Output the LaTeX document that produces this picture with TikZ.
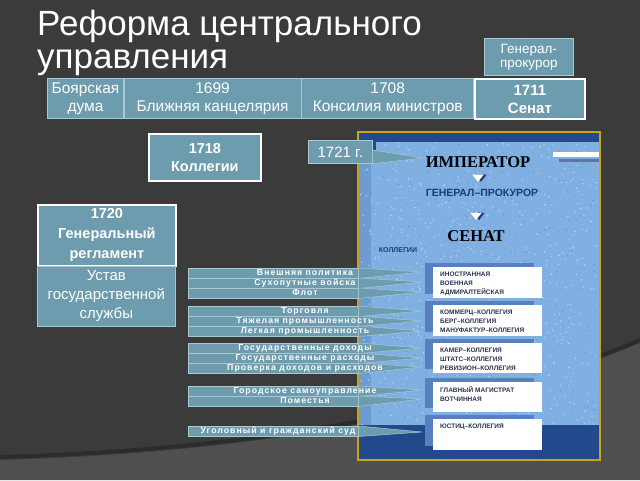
\documentclass[tikz,border=0pt]{standalone}
\usepackage{fontspec}
\setmainfont{Liberation Sans}
\newfontfamily\stripfont[LetterSpace=12]{Liberation Sans}
\newfontfamily\picserif{Liberation Serif}
\usetikzlibrary{calc,arrows.meta}

\definecolor{slate}{HTML}{3B3B3B}
\definecolor{slatelow}{HTML}{4F4F4F}
\definecolor{boxteal}{HTML}{6C9CAD}
\definecolor{boxedge}{HTML}{A8C8D2}
\definecolor{frame}{HTML}{C9A318}
\definecolor{sky}{HTML}{80AFE2}
\definecolor{skylight}{HTML}{B3D2F4}
\definecolor{skydark}{HTML}{6C9CD3}
\definecolor{skydots}{HTML}{5F8FCB}
\definecolor{deepblue}{HTML}{21498C}
\definecolor{shadeblue}{HTML}{5880BE}
\definecolor{navy}{HTML}{1C3B7A}
\definecolor{boxink}{HTML}{2B3352}

\tikzstyle{tealbox}=[rectangle,
                        fill=boxteal,
                        draw=boxedge,
                        line width=0.6pt,
                        text=white,
                        inner sep=0pt,
                        align=center,
                        anchor=north west]
\tikzstyle{markbox}=[tealbox,
                        draw=white,
                        line width=1.8pt]
\tikzstyle{strip}=[rectangle,
                        fill=boxteal,
                        draw=boxedge,
                        line width=0.5pt,
                        inner sep=0pt,
                        anchor=north west,
                        minimum width=170pt,
                        minimum height=10pt]
\tikzstyle{striptext}=[text=white,
                        inner sep=0pt,
                        font=\stripfont\bfseries\fontsize{8.7}{9}\selectfont]
\tikzstyle{collbox}=[rectangle,
                        fill=white,
                        inner sep=0pt,
                        anchor=north west,
                        minimum width=109pt]
\tikzstyle{colltext}=[anchor=north west,
                        inner sep=0pt,
                        align=left,
                        text=boxink,
                        font=\bfseries\fontsize{6.5}{9}\selectfont]
\tikzstyle{pictext}=[inner sep=1pt]
\tikzstyle{downtip}=[line width=0.1pt,
                        -{Triangle[width=11pt,length=7pt]}]

\begin{document}
\begin{tikzpicture}[x=1pt,y=-1pt]
  \useasboundingbox (0,0) rectangle (640,480);
  % The slide background with its lighter lower part:
  \fill[slate] (0,0) rectangle (640,480);
  \fill[slatelow] (0,460) .. controls (250,453) and (470,415) .. (640,343)
    -- (640,480) -- (0,480) -- cycle;
  \draw[black, opacity=0.25, line width=4pt] (0,457) .. controls (250,450) and (470,412) .. (640,340);
  \draw[black!70, opacity=0.5] (505,0) -- (640,232);
  \draw[black!70, opacity=0.5] (527,480) -- (546,458);

  \node[anchor=north west, inner sep=0pt, align=left, text=white,
        font=\fontsize{35}{33}\selectfont] (title) at (37,10) {Реформа центрального\\управления};

  % The top row of institutions is placed using a matrix:
  \matrix (toprow) [anchor=north west, column sep=0pt, inner sep=0pt,
                    nodes={font=\fontsize{15.5}{18}\selectfont}] at (47,78) {
        \node (duma) [tealbox, minimum width=76pt, minimum height=40pt] {Боярская\\дума}; &
        \node (blizh) [tealbox, minimum width=177pt, minimum height=40pt] {1699\\Ближняя канцелярия}; &
        \node (konsil) [tealbox, minimum width=172pt, minimum height=40pt] {1708\\Консилия министров}; &
        \node (senat) [markbox, minimum width=110pt, minimum height=40pt, font=\bfseries\fontsize{15}{18}\selectfont] {1711\\Сенат};
		\\
    };

  \node (genprok) [tealbox, minimum width=89pt, minimum height=37pt,
                   font=\fontsize{13.5}{14}\selectfont] at (484,38) {Генерал-\\прокурор};
  \node (koll) [markbox, minimum width=112pt, minimum height=47pt,
                font=\bfseries\fontsize{14.5}{18}\selectfont] at (148,133) {1718\\Коллегии};
  \node (regl) [markbox, minimum width=138pt, minimum height=61pt,
                font=\bfseries\fontsize{14.5}{20}\selectfont] at (37,204) {1720\\Генеральный\\регламент};
  \node (ustav) [tealbox, minimum width=138pt, minimum height=60pt,
                 font=\fontsize{15}{19}\selectfont] at (37,266) {Устав\\государственной\\службы};

  % The picture of the state scheme:
  \draw[frame, line width=2pt, fill=sky] (358,132) rectangle (600,460);
  \fill[skydark] (359,150) rectangle (371,426);
  \pgfmathsetseed{11}
  \foreach \i in {1,...,700}
    \fill[skylight] ({360+238*rnd},{140+290*rnd}) circle (0.8pt);
  \foreach \i in {1,...,400}
    \fill[skydots] ({360+238*rnd},{140+290*rnd}) circle (0.6pt);
  \fill[deepblue] (359,133) rectangle (599,142);
  \fill[deepblue] (359,133) rectangle (376,150);
  \fill[deepblue] (359,425) rectangle (599,459);
  \fill[white] (553,152) rectangle (599,157);
  \fill[navy!70] (559,159) rectangle (599,162);

  \node (imp) [pictext, text=black, font=\picserif\bfseries\fontsize{16.5}{18}\selectfont] at (478,162) {ИМПЕРАТОР};
  \node (genpr) [pictext, text=navy, font=\bfseries\fontsize{10.5}{12}\selectfont] at (482,193) {ГЕНЕРАЛ–ПРОКУРОР};
  \node (senpic) [pictext, text=black, font=\picserif\bfseries\fontsize{16.5}{18}\selectfont] at (476,236) {СЕНАТ};
  \node (kolhead) [pictext, text=navy, font=\bfseries\fontsize{7}{8}\selectfont] at (398,250) {КОЛЛЕГИИ};

  % Down arrows inside the picture, with their shadows:
  \draw[downtip, navy] ([xshift=3pt,yshift=-6pt]imp.south) -- ([xshift=3pt,yshift=-13pt]imp.south);
  \draw[downtip, navy] ([xshift=-3pt,yshift=-14pt]genpr.south) -- ([xshift=-3pt,yshift=-22pt]genpr.south);
  \draw[downtip, white] ([yshift=-6pt]imp.south) -- ([yshift=-13pt]imp.south);
  \draw[downtip, white] ([xshift=-6pt,yshift=-14pt]genpr.south) -- ([xshift=-6pt,yshift=-22pt]genpr.south);

  % The collegia, white boxes with a darker band behind:
  \foreach \n/\top/\hgt/\lines in {
        1/267/31/{ИНОСТРАННАЯ\\ВОЕННАЯ\\АДМИРАЛТЕЙСКАЯ},
        2/305/31/{КОММЕРЦ–КОЛЛЕГИЯ\\БЕРГ–КОЛЛЕГИЯ\\МАНУФАКТУР–КОЛЛЕГИЯ},
        3/343/30/{КАМЕР–КОЛЛЕГИЯ\\ШТАТС–КОЛЛЕГИЯ\\РЕВИЗИОН–КОЛЛЕГИЯ},
        4/382/30/{ГЛАВНЫЙ МАГИСТРАТ\\ВОТЧИННАЯ},
        5/419/31/{ЮСТИЦ–КОЛЛЕГИЯ}}
  {
    \fill[shadeblue] (425,{\top-4}) rectangle (534,{\top+\hgt-4});
    \node (coll\n) [collbox, minimum height=\hgt pt] at (433,\top) {};
    \node[colltext] at ($(coll\n.north west)+(7,4.5)$) {\lines};
  }

  % The 1721 box lies over the picture:
  \node (g1721) [tealbox, minimum width=64pt, minimum height=23pt,
                 font=\fontsize{15}{16}\selectfont] at (308,140) {1721 г.};
  \path[fill=boxteal, draw=boxedge, line width=0.5pt]
        ($(g1721.north east)+(0,10)$) -- (423,158) -- (g1721.south east) -- cycle;

  % The strips with the fields of each collegium:
  \foreach \n/\top/\tip/\cx/\txt in {
        a/268/272/305/Внешняя политика,
        b/278/282/305/Сухопутные войска,
        c/288/292/305/Флот,
        d/306/311/305/Торговля,
        e/316/321/305/Тяжелая промышленность,
        f/326/331/305/Легкая промышленность,
        g/343/348/305/Государственные доходы,
        h/353/358/305/Государственные расходы,
        i/363/367/305/Проверка доходов и расходов,
        j/386/390/305/Городское самоуправление,
        k/396/399/305/Поместья,
        l/426/432/278/Уголовный и гражданский суд}
  {
    \node (strip\n) [strip] at (188,\top) {};
    \path[fill=boxteal, draw=boxedge, line width=0.5pt]
          (strip\n.north east) -- (422,\tip) -- (strip\n.south east) -- cycle;
    \node[striptext] at (\cx,{\top+5}) {\txt};
  }
\end{tikzpicture}
\end{document}
